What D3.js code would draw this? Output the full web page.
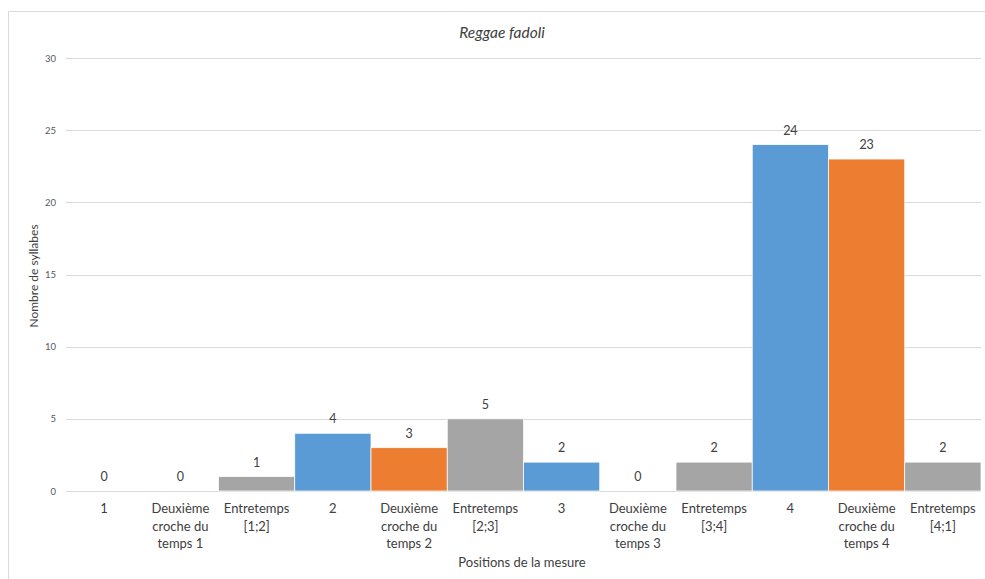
<!DOCTYPE html>
<html><head><meta charset="utf-8">
<script src="https://cdn.jsdelivr.net/npm/d3@7"></script>
<style>body{margin:0;background:#fff}svg{display:block}text{font-family:Lato,"Open Sans",sans-serif}</style>
</head><body><svg id="c" width="985" height="579"></svg>
<script>
const categories = [
  ["1"],
  ["Deuxième","croche du","temps 1"],
  ["Entretemps","[1;2]"],
  ["2"],
  ["Deuxième","croche du","temps 2"],
  ["Entretemps","[2;3]"],
  ["3"],
  ["Deuxième","croche du","temps 3"],
  ["Entretemps","[3;4]"],
  ["4"],
  ["Deuxième","croche du","temps 4"],
  ["Entretemps","[4;1]"]
];
const values = [0,0,1,4,3,5,2,0,2,24,23,2];
const kinds = ["temps","croche","entre","temps","croche","entre","temps","croche","entre","temps","croche","entre"];
const kindColors = {temps:"#5B9BD5", croche:"#ED7D31", entre:"#A5A5A5"};
const yTicks = [0,5,10,15,20,25,30];
const title = "Reggae fadoli";
const xTitle = "Positions de la mesure";
const yTitle = "Nombre de syllabes";

const svg = d3.select("#c");
const L = 66, R = 981, T = 58, B = 491;
svg.append("line").attr("x1",8.5).attr("x2",8.5).attr("y1",11.5).attr("y2",579).attr("stroke","#d9d9d9");
svg.append("line").attr("x1",8.5).attr("x2",985).attr("y1",11.5).attr("y2",11.5).attr("stroke","#d9d9d9");

const idx = categories.map((d,i)=>i);
const x = d3.scaleBand().domain(idx).range([L,R]).padding(0);
const y = d3.scaleLinear().domain([0,30]).range([B,T]);

const g = svg.append("g");
g.selectAll("line.grid").data(yTicks).join("line")
  .attr("x1",L).attr("x2",R).attr("y1",d=>Math.round(y(d))+0.5).attr("y2",d=>Math.round(y(d))+0.5)
  .attr("stroke","#d9d9d9").attr("stroke-width",1);
g.selectAll("text.yt").data(yTicks).join("text")
  .attr("x",56).attr("y",d=>y(d)+3.5).attr("text-anchor","end")
  .attr("font-size",9.5).attr("fill","#595959").text(d=>d);

g.selectAll("rect.bar").data(values).join("rect")
  .attr("x",(d,i)=>x(i)).attr("width",x.bandwidth())
  .attr("y",d=>y(d)).attr("height",d=>B-y(d))
  .attr("fill",(d,i)=>kindColors[kinds[i]])
  .attr("stroke","#fff").attr("stroke-width",0.75);

g.selectAll("text.lab").data(values).join("text")
  .attr("x",(d,i)=>x(i)+x.bandwidth()/2).attr("y",d=>y(d)-10)
  .attr("text-anchor","middle").attr("font-size",12.5).attr("fill","#404040").text(d=>d);

const cats = g.selectAll("text.cat").data(categories).join("text")
  .attr("text-anchor","middle").attr("font-size",13).attr("fill","#404040");
cats.each(function(lines,i){
  d3.select(this).selectAll("tspan").data(lines).join("tspan")
    .attr("x",x(i)+x.bandwidth()/2).attr("y",(d,j)=>513+j*17.5).text(d=>d);
});

svg.append("text").attr("x",522).attr("y",567).attr("text-anchor","middle")
  .attr("font-size",13).attr("fill","#404040").text(xTitle);
svg.append("text").attr("transform","translate(38,276) rotate(-90)").attr("text-anchor","middle")
  .attr("font-size",12).attr("fill","#404040").text(yTitle);
svg.append("text").attr("x",502).attr("y",38).attr("text-anchor","middle")
  .attr("font-size",15.5).attr("font-style","italic").attr("fill","#404040").text(title);
</script></body></html>
